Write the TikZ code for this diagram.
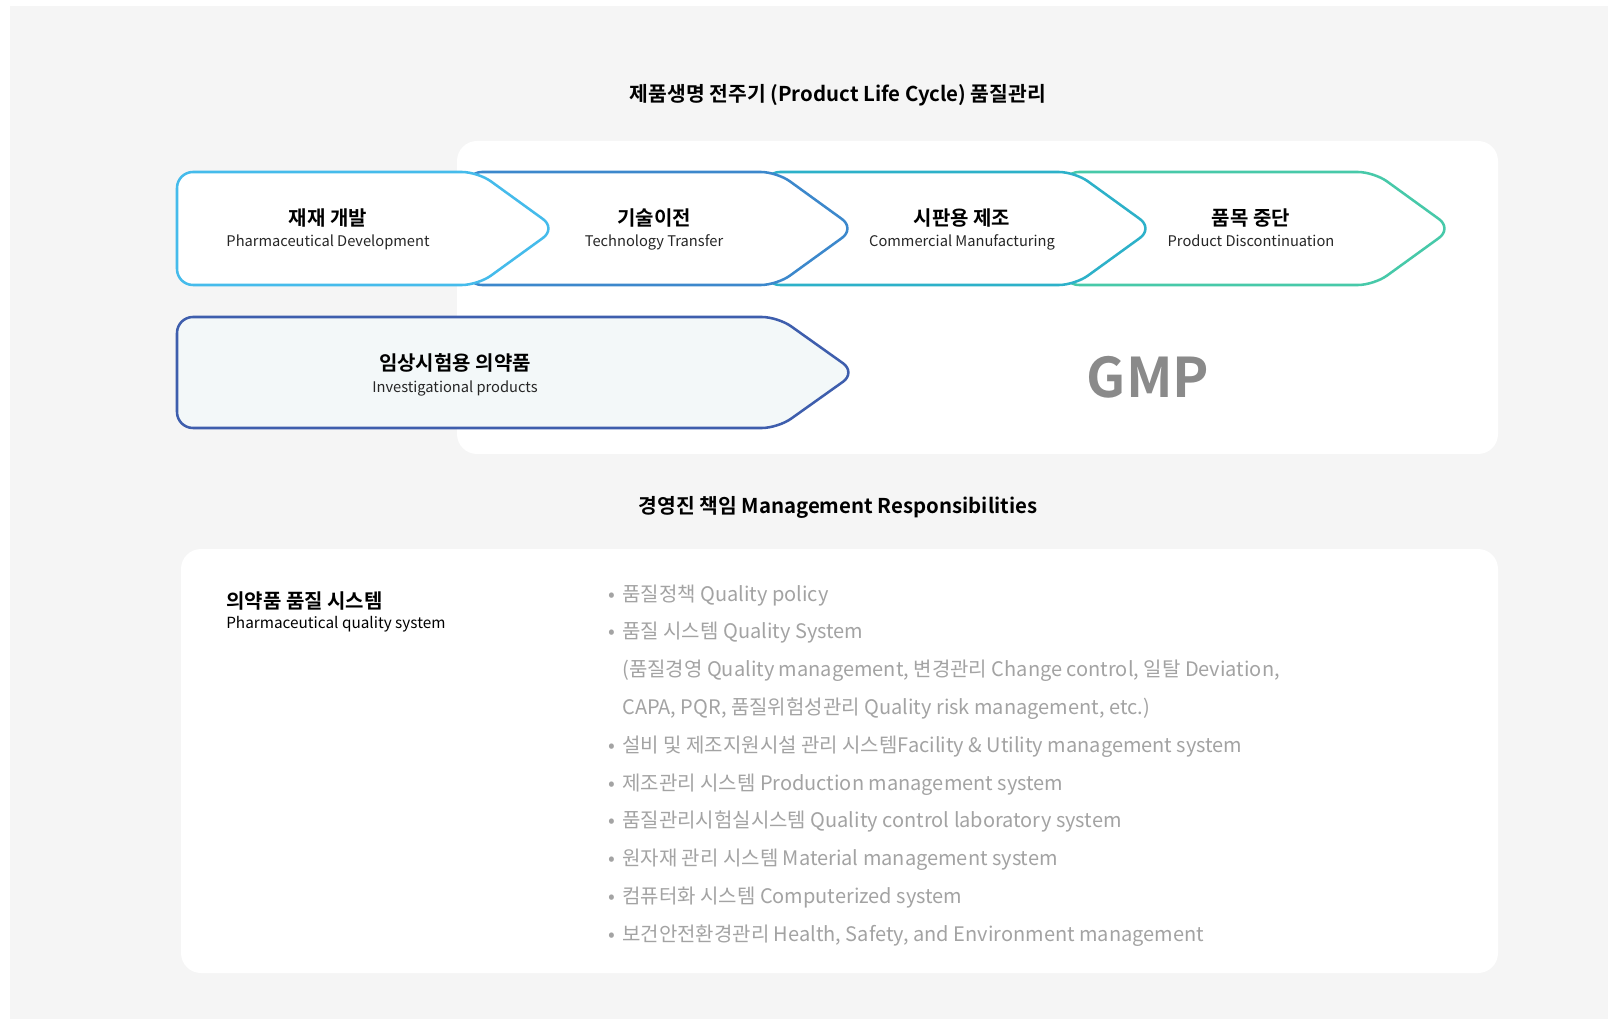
\documentclass[tikz,border=0pt]{standalone}
\usepackage{fontspec}
\setmainfont{Noto Sans CJK KR}[BoldFont={Noto Sans CJK KR Bold}]
\usetikzlibrary{positioning}

\definecolor{pagegrey}{HTML}{F5F5F5}
\definecolor{chevA}{HTML}{45BBEB}
\definecolor{chevB}{HTML}{3C88CC}
\definecolor{chevC}{HTML}{2DB1C9}
\definecolor{chevD}{HTML}{47C9A9}
\definecolor{chevE}{HTML}{3E5EAD}
\definecolor{chevEfill}{HTML}{F3F8F9}
\definecolor{itemgrey}{HTML}{A3A3A3}
\definecolor{gmpgrey}{HTML}{8A8A8A}

\begin{document}
\begin{tikzpicture}[x=0.75pt, y=-0.75pt,
    chevron/.style={line width=1.9pt, rounded corners=12pt, line join=round},
    krtitle/.style={anchor=base, inner sep=0pt, font=\bfseries\fontsize{15}{18}\selectfont},
    entitle/.style={anchor=base, inner sep=0pt, text=black!85, font=\fontsize{11}{13}\selectfont},
    heading/.style={inner sep=0pt, font=\bfseries\fontsize{15.3}{18}\selectfont},
    pqsitem/.style={anchor=base west, inner sep=0pt, text=itemgrey, font=\fontsize{15}{18}\selectfont}]

    % Canvas
    \useasboundingbox (0,0) rectangle (1617,1019);
    \fill[pagegrey] (10,6) rectangle (1608,1019);

    % White panels
    \fill[white, rounded corners=15pt] (457,141) rectangle (1498,454);
    \fill[white, rounded corners=15pt] (181,549) rectangle (1498,973);

    % Title
    \node[heading] (lifecycle) at (838,95) {제품생명 전주기 (Product Life Cycle) 품질관리};

    % Life cycle stages (right to left, each one covers the next)
    \foreach \i/\lft/\tip/\col/\tx/\kr/\en in {
        4/1063/1448/chevD/1251/품목 중단/Product Discontinuation,
        3/764/1149/chevC/962/시판용 제조/Commercial Manufacturing,
        2/466/851/chevB/654/기술이전/Technology Transfer,
        1/177/552/chevA/328/재재 개발/Pharmaceutical Development}{
      \draw[chevron, draw=\col, fill=white] (\lft,228.5) -- (\lft,172) -- (\tip-74,172)
          -- (\tip+4,228.5) -- (\tip-74,285) -- (\lft,285) -- cycle;
      \node[krtitle] (stage\i-kr) at (\tx,226) {\kr};
      \node[entitle] (stage\i-en) at (\tx,247) {\en};
    }

    % Investigational products
    \draw[chevron, draw=chevE, fill=chevEfill] (177,372.5) -- (177,317) -- (852-74,317)
        -- (852+4,372.5) -- (852-74,428) -- (177,428) -- cycle;
    \node[krtitle] (ip-kr) at (455,371) {임상시험용 의약품};
    \node[entitle] (ip-en) at (455,392.5) {Investigational products};

    \node[text=gmpgrey, font=\bfseries\fontsize{41}{48}\selectfont] (gmp) at (1148,377) {GMP};

    % Management responsibilities
    \node[heading] (mgmt) at (838,507) {경영진 책임 Management Responsibilities};

    \node[anchor=base west, inner sep=0pt, font=\bfseries\fontsize{15}{18}\selectfont] (pqs-kr) at (226,608) {의약품 품질 시스템};
    \node[anchor=base west, inner sep=0pt, font=\fontsize{11.5}{14}\selectfont] (pqs-en) at (226,628) {Pharmaceutical quality system};

    \foreach \txt [count=\k from 0] in {
        {\llap{•\hspace{5pt}}품질정책 Quality policy},
        {\llap{•\hspace{5pt}}품질 시스템 Quality System},
        {(품질경영 Quality management, 변경관리 Change control, 일탈 Deviation,},
        {CAPA, PQR, 품질위험성관리 Quality risk management, etc.)},
        {\llap{•\hspace{5pt}}설비 및 제조지원시설 관리 시스템Facility \& Utility management system},
        {\llap{•\hspace{5pt}}제조관리 시스템 Production management system},
        {\llap{•\hspace{5pt}}품질관리시험실시스템 Quality control laboratory system},
        {\llap{•\hspace{5pt}}원자재 관리 시스템 Material management system},
        {\llap{•\hspace{5pt}}컴퓨터화 시스템 Computerized system},
        {\llap{•\hspace{5pt}}보건안전환경관리 Health, Safety, and Environment management}}{
      \node[pqsitem] (item\k) at (622,601+37.8*\k) {\txt};
    }
\end{tikzpicture}
\end{document}
